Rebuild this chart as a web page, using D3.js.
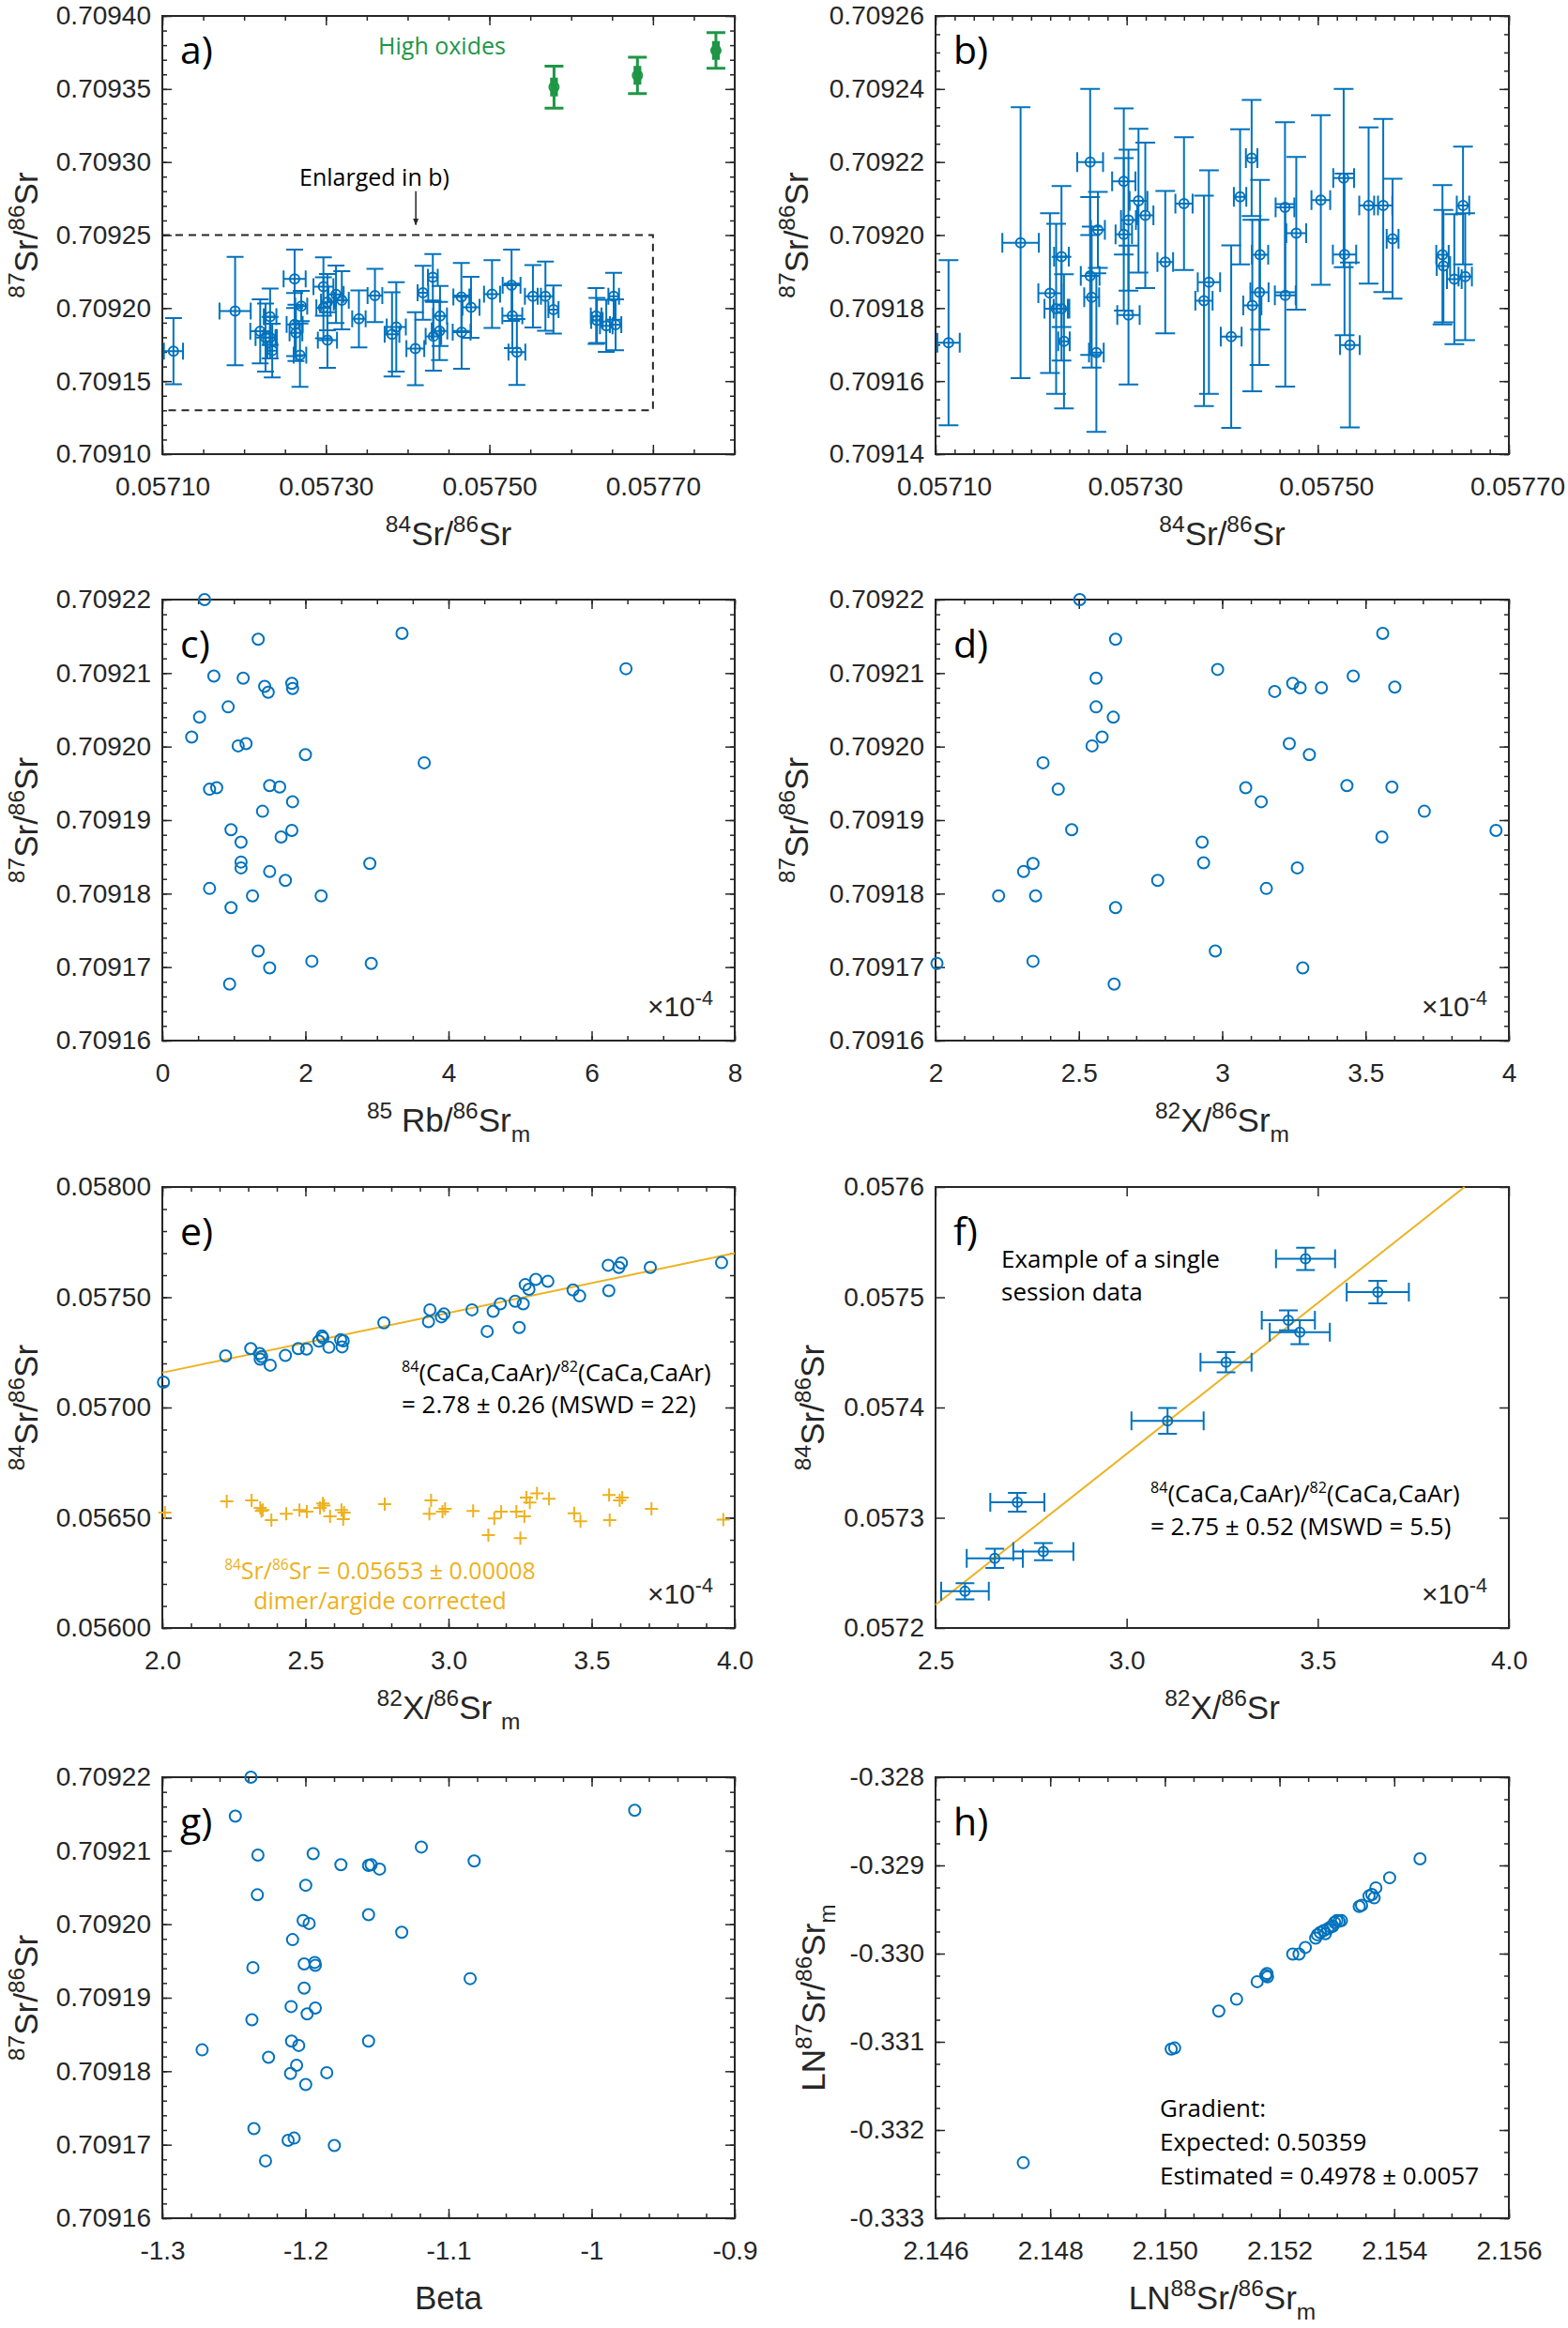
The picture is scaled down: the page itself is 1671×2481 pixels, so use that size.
<!DOCTYPE html>
<html>
<head>
<meta charset="UTF-8">
<style>
  body { margin: 0; background: #fff; }
  svg { display: block; }
  .num { font-family: "Liberation Sans", Arial, sans-serif; }
  .ann { font-family: "Open Sans", "Noto Sans", sans-serif; }
</style>
</head>
<body>
<svg id="fig"></svg>
<script src="https://d3js.org/d3.v7.min.js"></script>
<script>

// ---- a) / b) : 84Sr/86Sr vs 87Sr/86Sr with 2s errors (blue = normal, green = high oxides)
var abX = [0.0571136, 0.0571890, 0.0572197, 0.0572262, 0.0572318, 0.0572318, 0.0572344, 0.0572618, 0.0572699, 0.0572683,
           0.0572618, 0.0572634, 0.0572970, 0.0573124, 0.0573195, 0.0573019, 0.0572970, 0.0573019, 0.0573404, 0.0573600,
           0.0573861, 0.0573809, 0.0574094, 0.0574308, 0.0574187, 0.0574396, 0.0574390, 0.0574315, 0.0574657, 0.0574775,
           0.0574660, 0.0575032, 0.0575271, 0.0575280, 0.0575336, 0.0575532, 0.0575685, 0.0575783, 0.0576305, 0.0576315,
           0.0576429, 0.0576543, 0.0576520];
var abY = [0.7091705, 0.7091979, 0.7091841, 0.7091798, 0.7091798, 0.7091941, 0.7091709, 0.7092200, 0.7092014, 0.7091678,
           0.7091888, 0.7091830, 0.7092147, 0.7092094, 0.7092054, 0.7092041, 0.7092002, 0.7091781, 0.7091926, 0.7092086,
           0.7091871, 0.7091820, 0.7091722, 0.7092211, 0.7092105, 0.7091946, 0.7091843, 0.7091807, 0.7092076, 0.7092005,
           0.7091835, 0.7092096, 0.7092156, 0.7091947, 0.7091699, 0.7092081, 0.7092081, 0.7091990, 0.7091946, 0.7091915,
           0.7091879, 0.7091886, 0.7092081];
var abYErr = [2.26e-5, 3.71e-5, 2.19e-5, 2.33e-5, 1.42e-5, 1.93e-5, 1.84e-5, 2.00e-5, 1.04e-5, 2.17e-5,
              2.16e-5, 1.93e-5, 2.00e-5, 1.97e-5, 1.99e-5, 1.93e-5, 2.09e-5, 1.90e-5, 1.95e-5, 1.82e-5,
              3.06e-5, 2.88e-5, 2.50e-5, 1.59e-5, 1.85e-5, 2.05e-5, 1.99e-5, 2.35e-5, 2.33e-5, 2.09e-5,
              2.50e-5, 2.32e-5, 2.44e-5, 2.21e-5, 2.26e-5, 2.14e-5, 2.37e-5, 1.64e-5, 1.91e-5, 1.54e-5,
              1.78e-5, 1.74e-5, 1.61e-5];
var abXErr = [1.17e-5, 1.91e-5, 1.21e-5, 1.22e-5, 0.82e-5, 0.77e-5, 0.60e-5, 1.35e-5, 0.73e-5, 0.77e-5,
              0.98e-5, 0.78e-5, 1.22e-5, 0.93e-5, 0.85e-5, 0.78e-5, 0.86e-5, 1.17e-5, 0.82e-5, 0.90e-5,
              1.17e-5, 0.90e-5, 1.09e-5, 0.60e-5, 0.65e-5, 0.85e-5, 0.95e-5, 0.95e-5, 0.98e-5, 1.04e-5,
              1.09e-5, 0.98e-5, 1.09e-5, 1.22e-5, 1.03e-5, 0.98e-5, 0.95e-5, 0.62e-5, 0.65e-5, 0.70e-5,
              0.77e-5, 0.70e-5, 0.65e-5];
var oxX = [0.057579, 0.057681, 0.057777];
var oxY = [0.7093513, 0.7093593, 0.7093764];
var oxYErr = [1.44e-5, 1.24e-5, 1.22e-5];
var oxXErr = [0.3e-5, 0.3e-5, 0.3e-5];
var enlargeBox = [[0.0571, 0.70913], [0.0577, 0.70925]];
var enlargeArrow = [[0.05741, 0.70928], [0.05741, 0.709257]];

// ---- c) 85Rb/86Sr_m (x1e-4) vs 87Sr/86Sr
var cRb = [0.59, 1.34, 3.35, 6.48, 0.72, 1.13, 1.43, 1.48, 1.81, 1.82, 0.92, 0.52, 0.41, 1.06, 1.17, 2.00, 3.66, 0.66, 0.76, 1.50,
           1.64, 1.82, 1.40, 0.96, 1.10, 1.66, 1.81, 1.10, 1.10, 2.90, 1.50, 1.72, 0.66, 1.26, 2.22, 0.96, 1.34, 1.50, 2.09, 2.92, 0.94];
var cSr = [0.7092200, 0.7092146, 0.7092154, 0.7092106, 0.7092096, 0.7092093, 0.7092082, 0.7092074, 0.7092086, 0.7092079,
           0.7092054, 0.7092040, 0.7092013, 0.7092001, 0.7092004, 0.7091989, 0.7091978, 0.7091942, 0.7091944, 0.7091947,
           0.7091945, 0.7091925, 0.7091912, 0.7091887, 0.7091870, 0.7091877, 0.7091886, 0.7091843, 0.7091835, 0.7091841,
           0.7091830, 0.7091818, 0.7091807, 0.7091797, 0.7091797, 0.7091781, 0.7091722, 0.7091699, 0.7091708, 0.7091705, 0.7091677];

// ---- d) 82X/86Sr_m (x1e-4) vs 87Sr/86Sr
var dX82 = [2.503, 2.628, 2.984, 3.560, 2.560, 3.183, 3.246, 3.272, 3.346, 3.457, 3.602, 2.560, 2.620, 2.581, 2.546, 3.234, 3.304,
            2.375, 2.428, 3.082, 3.136, 3.435, 3.592, 3.705, 2.475, 2.930, 3.557, 3.955, 2.340, 2.307, 2.935, 3.262, 2.775,
            2.220, 2.349, 3.154, 2.628, 2.005, 2.340, 2.976, 3.281, 2.623];
var dSr = [0.7092200, 0.7092146, 0.7092105, 0.7092154, 0.7092093, 0.7092075, 0.7092086, 0.7092080, 0.7092080, 0.7092096,
           0.7092081, 0.7092054, 0.7092040, 0.7092013, 0.7092001, 0.7092004, 0.7091989, 0.7091978, 0.7091942, 0.7091944,
           0.7091925, 0.7091947, 0.7091945, 0.7091912, 0.7091887, 0.7091870, 0.7091877, 0.7091886, 0.7091841, 0.7091830,
           0.7091842, 0.7091835, 0.7091818, 0.7091797, 0.7091797, 0.7091807, 0.7091781, 0.7091705, 0.7091708, 0.7091722,
           0.7091699, 0.7091677];

// ---- e) 82X/86Sr_m (x1e-4) vs 84Sr/86Sr, raw (blue) and dimer/argide corrected (orange)
var eX82 = [2.004, 2.221, 2.309, 2.340, 2.342, 2.347, 2.377, 2.430, 2.475, 2.504, 2.547, 2.558, 2.561, 2.582, 2.623, 2.628, 2.632,
            2.774, 2.930, 2.935, 2.975, 2.984, 3.082, 3.135, 3.156, 3.181, 3.233, 3.247, 3.261, 3.268, 3.281, 3.305, 3.347,
            3.435, 3.458, 3.558, 3.560, 3.595, 3.604, 3.705, 3.954];
var eSr84 = [0.057115, 0.057234, 0.057267, 0.057245, 0.057219, 0.057231, 0.057192, 0.057236, 0.057267, 0.057265, 0.057301,
             0.057324, 0.057316, 0.057273, 0.057307, 0.057275, 0.057302, 0.057384, 0.057389, 0.057443, 0.057411, 0.057424,
             0.057443, 0.057345, 0.057436, 0.057470, 0.057482, 0.057363, 0.057470, 0.057557, 0.057536, 0.057581, 0.057572,
             0.057533, 0.057506, 0.057645, 0.057530, 0.057635, 0.057655, 0.057635, 0.057657];
var eCorrX82 = [2.009, 2.225, 2.312, 2.342, 2.346, 2.351, 2.381, 2.433, 2.479, 2.505, 2.551, 2.561, 2.565, 2.586, 2.626, 2.632,
                2.635, 2.777, 2.933, 2.939, 2.979, 2.988, 3.086, 3.139, 3.160, 3.184, 3.237, 3.251, 3.265, 3.272, 3.284,
                3.309, 3.351, 3.439, 3.461, 3.561, 3.563, 3.598, 3.607, 3.709, 3.960];
var eCorrSr84 = [0.056523, 0.056574, 0.056579, 0.056545, 0.056531, 0.056535, 0.056489, 0.056518, 0.056535, 0.056528, 0.056545,
                 0.056565, 0.056555, 0.056506, 0.056535, 0.056494, 0.056523, 0.056562, 0.056518, 0.056579, 0.056528, 0.056540,
                 0.056531, 0.056421, 0.056497, 0.056528, 0.056528, 0.056407, 0.056506, 0.056591, 0.056569, 0.056611, 0.056586,
                 0.056520, 0.056484, 0.056603, 0.056489, 0.056579, 0.056591, 0.056540, 0.056492];
var eLineX = [2.0, 4.0];
var eLineY = [0.057158, 0.057700];

// ---- f) single session, 82X/86Sr (x1e-4) vs 84Sr/86Sr with errors
var fX82 = [2.577, 2.655, 2.714, 2.782, 3.107, 3.260, 3.423, 3.453, 3.468, 3.657];
var fSr84 = [0.0572333, 0.0572632, 0.0573141, 0.0572693, 0.0573878, 0.0574411, 0.0574791, 0.0574683, 0.0575348, 0.0575046];
var fXErr = [0.0623, 0.0734, 0.0708, 0.0786, 0.0944, 0.0668, 0.0695, 0.0786, 0.0773, 0.0813];
var fYErr = [0.73e-5, 0.88e-5, 0.85e-5, 0.78e-5, 1.17e-5, 0.92e-5, 0.90e-5, 1.09e-5, 1.02e-5, 1.02e-5];
var fLineX = [2.5, 3.884];
var fLineY = [0.057221, 0.0576];

// ---- g) Beta vs 87Sr/86Sr
var gBeta = [-1.2381, -1.2490, -0.9699, -1.2332, -1.1946, -1.1190, -1.1752, -1.1559, -1.1541, -1.1482, -1.0821, -1.1998, -1.2336,
             -1.1559, -1.2016, -1.1974, -1.1327, -1.2090, -1.2367, -1.2009, -1.1935, -1.1931, -1.0849, -1.2009, -1.2100, -1.1931,
             -1.1988, -1.2374, -1.2722, -1.2097, -1.2047, -1.1559, -1.2258, -1.2062, -1.2104, -1.1851, -1.1998, -1.2360, -1.2121,
             -1.2079, -1.1798, -1.2279];
var gSr = [0.7092200, 0.7092147, 0.7092155, 0.7092094, 0.7092096, 0.7092105, 0.7092081, 0.7092080, 0.7092081, 0.7092075,
           0.7092086, 0.7092053, 0.7092040, 0.7092013, 0.7092005, 0.7092001, 0.7091989, 0.7091979, 0.7091941, 0.7091946,
           0.7091948, 0.7091944, 0.7091926, 0.7091913, 0.7091888, 0.7091886, 0.7091878, 0.7091870, 0.7091829, 0.7091841,
           0.7091835, 0.7091841, 0.7091819, 0.7091808, 0.7091797, 0.7091798, 0.7091782, 0.7091722, 0.7091706, 0.7091709,
           0.7091699, 0.7091678];

// ---- h) LN 88Sr/86Sr_m vs LN 87Sr/86Sr_m
var hLn88 = [2.14753, 2.15011, 2.15017, 2.15094, 2.15125, 2.15161, 2.15176, 2.15179, 2.15178, 2.15223, 2.15234, 2.15245,
             2.15263, 2.15266, 2.15271, 2.15277, 2.15280, 2.15284, 2.15289, 2.15293, 2.15296, 2.15300, 2.15304, 2.15308,
             2.15339, 2.15343, 2.15356, 2.15361, 2.15365, 2.15368, 2.15392, 2.15445];
var hLn87 = [-0.332371, -0.331083, -0.331070, -0.330652, -0.330517, -0.330318, -0.330247, -0.330264, -0.330226, -0.330006,
             -0.330006, -0.329930, -0.329824, -0.329786, -0.329761, -0.329740, -0.329774, -0.329719, -0.329698, -0.329689,
             -0.329647, -0.329626, -0.329634, -0.329626, -0.329465, -0.329453, -0.329347, -0.329330, -0.329368, -0.329254,
             -0.329140, -0.328925];

// ---- tick labels
var abXTicks = [0.0571, 0.0573, 0.0575, 0.0577];
var aYTicks = [0.7091, 0.70915, 0.7092, 0.70925, 0.7093, 0.70935, 0.7094];
var bYTicks = [0.70914, 0.70916, 0.70918, 0.7092, 0.70922, 0.70924, 0.70926];
var srYTicks = [0.70916, 0.70917, 0.70918, 0.70919, 0.7092, 0.70921, 0.70922];
var cXTicks = [0, 2, 4, 6, 8];
var x82Ticks = [2, 2.5, 3, 3.5, 4];
var eYTicks = [0.056, 0.0565, 0.057, 0.0575, 0.058];
var fXTicks = [2.5, 3, 3.5, 4];
var fYTicks = [0.0572, 0.0573, 0.0574, 0.0575, 0.0576];
var gXTicks = [-1.3, -1.2, -1.1, -1, -0.9];
var hXTicks = [2.146, 2.148, 2.15, 2.152, 2.154, 2.156];
var hYTicks = [-0.333, -0.332, -0.331, -0.33, -0.329, -0.328];

var BLUE = "#0072BD", ORANGE = "#EDB120", GREEN = "#1E9646", INK = "#262626";

var svg = d3.select("#fig").attr("width", 1671).attr("height", 2481);

function steps(lo, hi, step) {
  var n = Math.round((hi - lo) / step);
  return d3.range(n + 1).map(function (i) { return lo + i * step; });
}

// text with super/subscripts; parts = [[text, "sup"|"sub"|""], ...]
function rich(sel, parts, size, small) {
  var prev = 0;
  parts.forEach(function (p) {
    var off = p[1] === "sup" ? -0.4 * size : (p[1] === "sub" ? 0.32 * size : 0);
    sel.append("tspan").text(p[0])
      .attr("font-size", p[1] ? size * small : size)
      .attr("dy", off - prev);
    prev = off;
  });
  return sel;
}

function panel(p) {
  var g = svg.append("g").attr("transform", "translate(" + p.x + "," + p.y + ")");
  var x = d3.scaleLinear().domain(p.xDomain).range([0, p.w]);
  var y = d3.scaleLinear().domain(p.yDomain).range([p.h, 0]);

  function ax(axisFn, scale, vals, len, fmt, pad, tr) {
    var a = axisFn(scale).tickValues(vals).tickSizeInner(-len).tickSizeOuter(0)
      .tickPadding(pad || 0).tickFormat(fmt || "");
    return g.append("g").attr("transform", tr || null).call(a);
  }
  if (p.xMinor) {
    ax(d3.axisBottom, x, p.xMinor, 5, null, 0, "translate(0," + p.h + ")");
    ax(d3.axisTop, x, p.xMinor, 5);
  }
  if (p.yMinor) {
    ax(d3.axisLeft, y, p.yMinor, 5);
    ax(d3.axisRight, y, p.yMinor, 5, null, 0, "translate(" + p.w + ",0)");
  }
  var bx = ax(d3.axisBottom, x, p.xTicks, 10, p.fmtX, 24, "translate(0," + p.h + ")");
  ax(d3.axisTop, x, p.xTicks, 10);
  ax(d3.axisLeft, y, p.yTicks, 10, p.fmtY, 12);
  ax(d3.axisRight, y, p.yTicks, 10, null, 0, "translate(" + p.w + ",0)");
  if (p.xLabelShift) bx.selectAll("text").attr("dx", p.xLabelShift);

  g.selectAll(".domain").remove();
  g.selectAll(".tick line").attr("stroke", INK).attr("stroke-width", 1.5);
  g.selectAll(".tick text").attr("class", "num").attr("font-size", 28).attr("fill", INK);
  g.append("rect").attr("width", p.w).attr("height", p.h)
    .attr("fill", "none").attr("stroke", INK).attr("stroke-width", 2);

  // panel letter
  g.append("text").attr("class", "ann").attr("x", 19).attr("y", p.letterY || 62)
    .attr("font-size", 41).attr("fill", "#000").text(p.letter);

  // axis labels
  rich(svg.append("text").attr("class", "num").attr("fill", INK).attr("text-anchor", "middle")
    .attr("x", p.x + p.w / 2).attr("y", p.y + p.h + 97), p.xLabel, 35, 0.7);
  rich(svg.append("text").attr("class", "num").attr("fill", INK).attr("text-anchor", "middle")
    .attr("transform", "translate(" + (p.x + p.yLabX) + "," + (p.y + p.h / 2) + ") rotate(-90)"),
    p.yLabel, 35, 0.7);

  if (p.mult) {
    rich(g.append("text").attr("class", "num").attr("fill", INK).attr("text-anchor", "end")
      .attr("x", p.w - 23).attr("y", p.h - 26), [["\u00d710", ""], ["-4", "sup"]], 30, 0.72);
  }
  return { g: g, x: x, y: y };
}

function circles(P, xs, ys, color, r) {
  P.g.append("g").selectAll("circle").data(xs).join("circle")
    .attr("cx", function (d) { return P.x(d); })
    .attr("cy", function (d, i) { return P.y(ys[i]); })
    .attr("r", r).attr("fill", "none").attr("stroke", color).attr("stroke-width", 2);
}

function errorbars(P, xs, ys, xe, ye, color, cap, sw) {
  var rows = xs.map(function (d, i) { return { x: d, y: ys[i], ex: xe[i], ey: ye[i] }; });
  var eg = P.g.append("g").attr("stroke", color).attr("stroke-width", sw).attr("fill", "none");
  rows.forEach(function (d) {
    var cx = P.x(d.x), cy = P.y(d.y);
    var y1 = P.y(d.y + d.ey), y2 = P.y(d.y - d.ey);
    var x1 = P.x(d.x - d.ex), x2 = P.x(d.x + d.ex);
    var path = d3.path();
    path.moveTo(cx, y1); path.lineTo(cx, y2);
    path.moveTo(cx - cap, y1); path.lineTo(cx + cap, y1);
    path.moveTo(cx - cap, y2); path.lineTo(cx + cap, y2);
    path.moveTo(x1, cy); path.lineTo(x2, cy);
    path.moveTo(x1, cy - cap); path.lineTo(x1, cy + cap);
    path.moveTo(x2, cy - cap); path.lineTo(x2, cy + cap);
    eg.append("path").attr("d", path.toString());
  });
}

function line(P, xs, ys, color) {
  P.g.append("path").datum(xs.map(function (d, i) { return [d, ys[i]]; }))
    .attr("d", d3.line().x(function (d) { return P.x(d[0]); }).y(function (d) { return P.y(d[1]); }))
    .attr("stroke", color).attr("stroke-width", 2).attr("fill", "none");
}

function note(P, lines, x0, size, color, anchor) {
  lines.forEach(function (l) {
    rich(P.g.append("text").attr("class", "ann").attr("fill", color || "#000")
      .attr("text-anchor", anchor || "start").attr("x", x0).attr("y", l[0]), l[1], size, 0.62);
  });
}

var f5 = d3.format(".5f"), f4 = d3.format(".4f"), f1 = d3.format(".1f");
var plain = function (d) { return String(+d.toFixed(3)); };
var hy = function (d) { return d.toFixed(3); };
var srLab = [["87", "sup"], ["Sr/", ""], ["86", "sup"], ["Sr", ""]];
var sr84Lab = [["84", "sup"], ["Sr/", ""], ["86", "sup"], ["Sr", ""]];
var ratioText = [["84", "sup"], ["(CaCa,CaAr)/", ""], ["82", "sup"], ["(CaCa,CaAr)", ""]];

// a)
var A = panel({ x: 173, y: 17, w: 610, h: 467, letter: "a)", letterY: 51,
  xDomain: [0.0571, 0.0578], yDomain: [0.7091, 0.7094],
  xTicks: abXTicks, xMinor: steps(0.0571, 0.0578, 0.00005),
  yTicks: aYTicks, yMinor: steps(0.7091, 0.7094, 0.00001),
  fmtX: f5, fmtY: f5, xLabel: sr84Lab, yLabel: srLab, yLabX: -133 });
A.g.append("rect")
  .attr("x", A.x(enlargeBox[0][0])).attr("y", A.y(enlargeBox[1][1]))
  .attr("width", A.x(enlargeBox[1][0]) - A.x(enlargeBox[0][0]))
  .attr("height", A.y(enlargeBox[0][1]) - A.y(enlargeBox[1][1]))
  .attr("fill", "none").attr("stroke", INK).attr("stroke-width", 2).attr("stroke-dasharray", "8,6");
errorbars(A, abX, abY, abXErr, abYErr, BLUE, 9, 2);
circles(A, abX, abY, BLUE, 5);
errorbars(A, oxX, oxY, oxXErr, oxYErr, GREEN, 10, 3);
circles(A, oxX, oxY, GREEN, 5);
svg.append("defs").append("marker").attr("id", "arr").attr("viewBox", "0 0 10 10")
  .attr("refX", 9).attr("refY", 5).attr("markerWidth", 5).attr("markerHeight", 7).attr("orient", "auto")
  .append("path").attr("d", "M0,1 L10,5 L0,9 z").attr("fill", INK);
A.g.append("line")
  .attr("x1", A.x(enlargeArrow[0][0])).attr("y1", A.y(enlargeArrow[0][1]))
  .attr("x2", A.x(enlargeArrow[1][0])).attr("y2", A.y(enlargeArrow[1][1]))
  .attr("stroke", INK).attr("stroke-width", 1.5).attr("marker-end", "url(#arr)");
note(A, [[181, [["Enlarged in b)", ""]]]], 226, 25, "#000", "middle");
note(A, [[41, [["High oxides", ""]]]], 298, 25, GREEN, "middle");

// b)
var B = panel({ x: 997, y: 17, w: 611, h: 467, letter: "b)", letterY: 51,
  xDomain: [0.0571, 0.0577], yDomain: [0.70914, 0.70926],
  xTicks: abXTicks, xMinor: steps(0.0571, 0.0577, 0.00002), xLabelShift: 9,
  yTicks: bYTicks, yMinor: steps(0.70914, 0.70926, 0.000005),
  fmtX: f5, fmtY: f5, xLabel: sr84Lab, yLabel: srLab, yLabX: -136 });
errorbars(B, abX, abY, abXErr, abYErr, BLUE, 10.5, 2);
circles(B, abX, abY, BLUE, 5);

// c)
var C = panel({ x: 173, y: 639, w: 610, h: 470, letter: "c)", mult: true,
  xDomain: [0, 8], yDomain: [0.70916, 0.70922],
  xTicks: cXTicks, xMinor: steps(0, 8, 0.5),
  yTicks: srYTicks, yMinor: steps(0.70916, 0.70922, 0.000002),
  fmtX: plain, fmtY: f5,
  xLabel: [["85", "sup"], [" Rb/", ""], ["86", "sup"], ["Sr", ""], ["m", "sub"]], yLabel: srLab, yLabX: -133 });
circles(C, cRb, cSr, BLUE, 6);

// d)
var D = panel({ x: 997, y: 639, w: 611, h: 470, letter: "d)", mult: true,
  xDomain: [2, 4], yDomain: [0.70916, 0.70922],
  xTicks: x82Ticks, xMinor: steps(2, 4, 0.1),
  yTicks: srYTicks, yMinor: steps(0.70916, 0.70922, 0.000002),
  fmtX: plain, fmtY: f5,
  xLabel: [["82", "sup"], ["X/", ""], ["86", "sup"], ["Sr", ""], ["m", "sub"]], yLabel: srLab, yLabX: -136 });
circles(D, dX82, dSr, BLUE, 6);

// e)
var E = panel({ x: 173, y: 1265, w: 610, h: 470, letter: "e)", mult: true,
  xDomain: [2, 4], yDomain: [0.056, 0.058],
  xTicks: x82Ticks, xMinor: steps(2, 4, 0.1),
  yTicks: eYTicks, yMinor: steps(0.056, 0.058, 0.0001),
  fmtX: f1, fmtY: f5,
  xLabel: [["82", "sup"], ["X/", ""], ["86", "sup"], ["Sr ", ""], ["m", "sub"]], yLabel: sr84Lab, yLabX: -133 });
line(E, eLineX, eLineY, ORANGE);
circles(E, eX82, eSr84, BLUE, 6);
E.g.append("g").attr("stroke", ORANGE).attr("stroke-width", 2).selectAll("path")
  .data(eCorrX82).join("path")
  .attr("d", function (d, i) {
    var cx = E.x(d), cy = E.y(eCorrSr84[i]);
    return "M" + (cx - 7) + "," + cy + "H" + (cx + 7) + "M" + cx + "," + (cy - 7) + "V" + (cy + 7);
  });
note(E, [[207, ratioText], [241, [["= 2.78 \u00b1 0.26 (MSWD = 22)", ""]]]], 255, 26, "#000");
note(E, [[418, [["84", "sup"], ["Sr/", ""], ["86", "sup"], ["Sr = 0.05653 \u00b1 0.00008", ""]]],
         [450, [["dimer/argide corrected", ""]]]], 232, 25, ORANGE, "middle");

// f)
var F = panel({ x: 997, y: 1265, w: 611, h: 470, letter: "f)", mult: true,
  xDomain: [2.5, 4], yDomain: [0.0572, 0.0576],
  xTicks: fXTicks, yTicks: fYTicks, fmtX: f1, fmtY: f4,
  xLabel: [["82", "sup"], ["X/", ""], ["86", "sup"], ["Sr", ""]], yLabel: sr84Lab, yLabX: -119 });
line(F, fLineX, fLineY, ORANGE);
errorbars(F, fX82, fSr84, fXErr, fYErr, BLUE, 10, 2);
circles(F, fX82, fSr84, BLUE, 5);
note(F, [[86, [["Example of a single", ""]]], [121, [["session data", ""]]]], 70, 26, "#000");
note(F, [[336, ratioText], [371, [["= 2.75 \u00b1 0.52 (MSWD = 5.5)", ""]]]], 229, 26, "#000");

// g)
var G = panel({ x: 173, y: 1894, w: 610, h: 470, letter: "g)",
  xDomain: [-1.3, -0.9], yDomain: [0.70916, 0.70922],
  xTicks: gXTicks, xMinor: steps(-1.3, -0.9, 0.02),
  yTicks: srYTicks, yMinor: steps(0.70916, 0.70922, 0.000002),
  fmtX: plain, fmtY: f5, xLabel: [["Beta", ""]], yLabel: srLab, yLabX: -133 });
circles(G, gBeta, gSr, BLUE, 6);

// h)
var Hh = panel({ x: 997, y: 1894, w: 611, h: 470, letter: "h)",
  xDomain: [2.146, 2.156], yDomain: [-0.333, -0.328],
  xTicks: hXTicks, xMinor: steps(2.146, 2.156, 0.0005),
  yTicks: hYTicks, yMinor: steps(-0.333, -0.328, 0.00025),
  fmtX: hy, fmtY: hy,
  xLabel: [["LN", ""], ["88", "sup"], ["Sr/", ""], ["86", "sup"], ["Sr", ""], ["m", "sub"]],
  yLabel: [["LN", ""], ["87", "sup"], ["Sr/", ""], ["86", "sup"], ["Sr", ""], ["m", "sub"]], yLabX: -118 });
circles(Hh, hLn88, hLn87, BLUE, 6);
note(Hh, [[362, [["Gradient:", ""]]], [398, [["Expected: 0.50359", ""]]],
          [434, [["Estimated = 0.4978 \u00b1 0.0057", ""]]]], 239, 26, "#000");

</script>
</body>
</html>
